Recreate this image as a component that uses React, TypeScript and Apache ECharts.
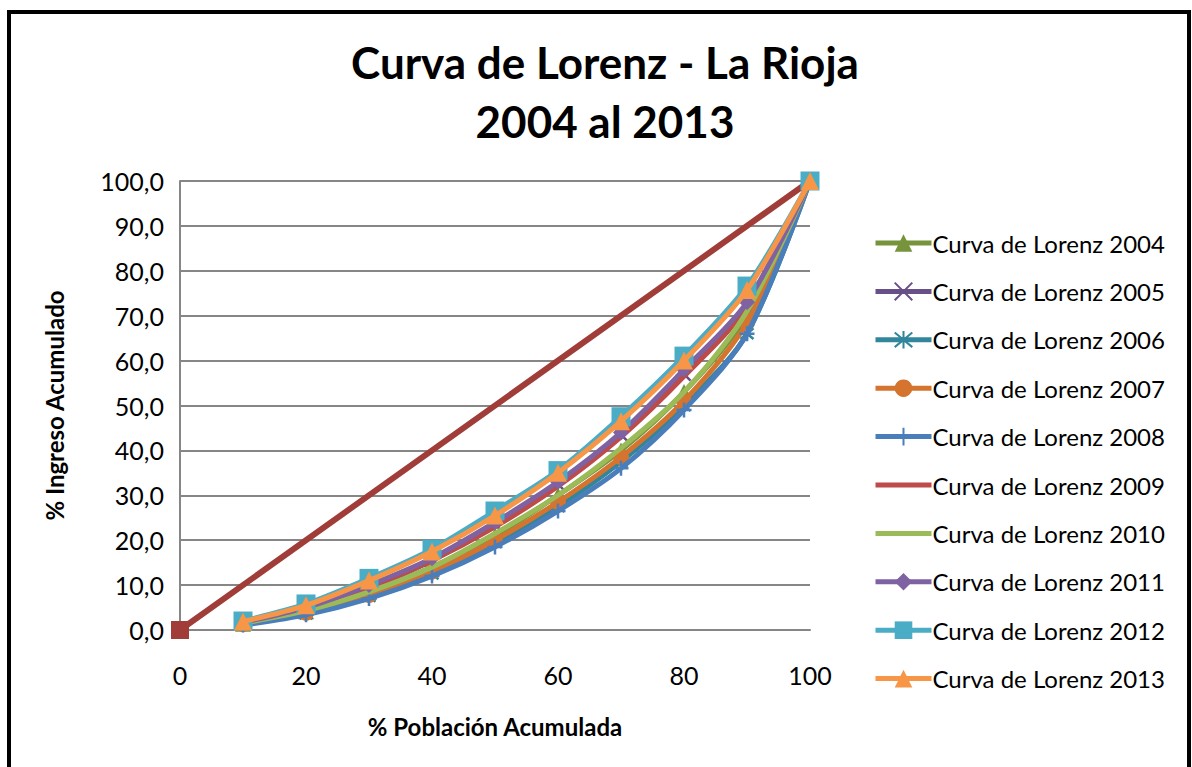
import React, { useEffect, useRef } from "react";
import * as echarts from "echarts";

const xValues = [10, 20, 30, 40, 50, 60, 70, 80, 90, 100];
const equalityX = [0, 100];
const equalityY = [0, 100];
const yTicks = [0, 10, 20, 30, 40, 50, 60, 70, 80, 90, 100];

const names = [
  "Curva de Lorenz 2004",
  "Curva de Lorenz 2005",
  "Curva de Lorenz 2006",
  "Curva de Lorenz 2007",
  "Curva de Lorenz 2008",
  "Curva de Lorenz 2009",
  "Curva de Lorenz 2010",
  "Curva de Lorenz 2011",
  "Curva de Lorenz 2012",
  "Curva de Lorenz 2013",
];

const y2004 = [1.4, 4.2, 8.5, 14.0, 21.0, 30.0, 40.0, 53.0, 70.0, 100];
const y2005 = [1.6, 4.7, 9.5, 15.5, 23.5, 32.5, 43.5, 57.0, 72.0, 100];
const y2006 = [1.2, 3.6, 7.5, 12.5, 19.5, 27.5, 37.5, 50.0, 66.0, 100];
const y2007 = [1.3, 3.8, 7.8, 13.0, 20.0, 28.5, 38.5, 51.0, 68.5, 100];
const y2008 = [1.1, 3.4, 7.0, 12.0, 18.5, 26.5, 36.0, 49.0, 66.0, 100];
const y2009 = [1.6, 4.7, 9.5, 15.5, 23.0, 32.0, 43.0, 56.5, 72.0, 100];
const y2010 = [1.5, 4.3, 8.5, 14.0, 21.5, 30.0, 40.5, 53.0, 71.0, 100];
const y2011 = [1.7, 5.0, 10.0, 16.0, 24.0, 33.0, 44.0, 58.0, 73.0, 100];
const y2012 = [2.0, 5.8, 11.5, 18.0, 26.5, 35.5, 47.5, 61.0, 76.6, 100];
const y2013 = [1.9, 5.5, 11.0, 17.5, 25.5, 35.0, 46.5, 60.0, 75.7, 100];

const seriesValues = [y2004, y2005, y2006, y2007, y2008, y2009, y2010, y2011, y2012, y2013];

const colors = [
  "#77933C",
  "#674F87",
  "#31869B",
  "#D5742E",
  "#4A7EBB",
  "#BE4B48",
  "#9BBB59",
  "#7E62A1",
  "#4BACC6",
  "#F79646",
];

const X_PATH = "path://M0,0L10,10M10,0L0,10";
const AST_PATH = "path://M0,0L10,10M10,0L0,10M5,-1L5,11";
const PLUS_PATH = "path://M5,0L5,10M0,5L10,5";

const symbols = [
  "triangle",
  X_PATH,
  AST_PATH,
  "circle",
  PLUS_PATH,
  "none",
  "none",
  "diamond",
  "rect",
  "triangle",
];
const symbolSizes = [16, 13, 13, 16, 15, 0, 0, 16, 19, 18];
const strokeSymbols = [false, true, true, false, true, false, false, false, false, false];

const FONT = "Lato, 'Liberation Sans', sans-serif";

export default function App() {
  const ref = useRef<HTMLDivElement>(null);

  useEffect(() => {
    if (!ref.current) return;
    const chart = echarts.init(ref.current, undefined, { renderer: "svg" });

    const lorenzSeries = names.map((name, i) => ({
      name,
      type: "line",
      smooth: 0.3,
      data: xValues.map((x, j) => [x, seriesValues[i][j]]),
      symbol: symbols[i],
      symbolSize: symbolSizes[i],
      showSymbol: symbols[i] !== "none",
      lineStyle: { color: colors[i], width: 5 },
      itemStyle: strokeSymbols[i]
        ? { color: colors[i], borderColor: colors[i], borderWidth: 2.5 }
        : { color: colors[i], borderWidth: 0 },
      z: 3 + i,
    }));

    const legendData = names.map((name, i) =>
      symbols[i] === "none" ? { name, itemStyle: { opacity: 0 } } : { name }
    );

    chart.setOption({
      animation: false,
      backgroundColor: "#ffffff",
      textStyle: { fontFamily: FONT },
      title: {
        text: "Curva de Lorenz - La Rioja\n2004 al 2013",
        left: 600,
        textAlign: "center",
        top: 27,
        textStyle: {
          fontFamily: FONT,
          fontSize: 44,
          fontWeight: "bold",
          lineHeight: 59,
          color: "#000000",
        },
      },
      graphic: [
        {
          type: "rect",
          shape: { x: 9, y: 12, width: 1180, height: 800 },
          style: { fill: "none", stroke: "#000000", lineWidth: 4 },
          silent: true,
          z: 100,
        },
      ],
      grid: { left: 180, right: 382, top: 181, bottom: 137, containLabel: false },
      xAxis: {
        type: "value",
        min: 0,
        max: 100,
        interval: 20,
        name: "% Población Acumulada",
        nameLocation: "middle",
        nameGap: 84,
        nameTextStyle: { fontFamily: FONT, fontSize: 24, fontWeight: "bold", color: "#000" },
        axisLine: { show: true, lineStyle: { color: "#868686", width: 2 } },
        axisTick: { show: false },
        splitLine: { show: false },
        axisLabel: { fontFamily: FONT, fontSize: 25, color: "#000", margin: 32 },
      },
      yAxis: {
        type: "value",
        min: 0,
        max: 100,
        interval: 10,
        name: "% Ingreso Acumulado",
        nameLocation: "middle",
        nameGap: 114,
        nameTextStyle: { fontFamily: FONT, fontSize: 24, fontWeight: "bold", color: "#000" },
        axisLine: { show: true, lineStyle: { color: "#868686", width: 2 } },
        axisTick: { show: false },
        splitLine: { show: true, lineStyle: { color: "#868686", width: 2 } },
        axisLabel: {
          fontFamily: FONT,
          fontSize: 25,
          color: "#000",
          margin: 16,
          formatter: (v: number) => (yTicks.includes(v) ? v.toFixed(1).replace(".", ",") : ""),
        },
      },
      legend: {
        orient: "vertical",
        left: 868,
        top: 226,
        data: legendData,
        itemWidth: 56,
        itemHeight: 22,
        itemGap: 24.4,
        lineStyle: { width: 5 },
        textStyle: { fontFamily: FONT, fontSize: 24, color: "#000", lineHeight: 24, padding: [0, 0, 0, -4] },
      },
      series: [
        {
          name: "Igualdad",
          type: "line",
          data: equalityX.map((x, j) => [x, equalityY[j]]),
          symbol: "rect",
          symbolSize: 18,
          lineStyle: { color: "#A03D39", width: 6 },
          itemStyle: { color: "#A03D39" },
          z: 2,
        },
        ...lorenzSeries,
      ],
    });

    return () => chart.dispose();
  }, []);

  return (
    <div
      ref={ref}
      style={{ position: "fixed", left: 0, top: 0, width: 1192, height: 767, background: "#fff" }}
    />
  );
}
